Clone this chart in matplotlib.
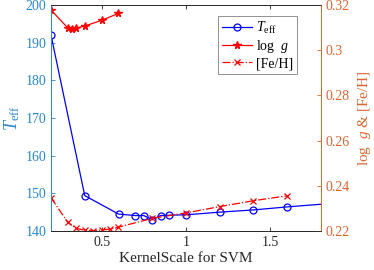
import matplotlib
matplotlib.use("Agg")
import matplotlib.pyplot as plt

plt.rcParams['font.family'] = ['Liberation Serif', 'DejaVu Serif']
plt.rcParams['mathtext.fontset'] = 'custom'
plt.rcParams['mathtext.rm'] = 'Liberation Serif'
plt.rcParams['mathtext.it'] = 'Liberation Serif:italic'

# Data
teff_x = [0.2, 0.4, 0.6, 0.7, 0.75, 0.8, 0.85, 0.9, 1.0, 1.2, 1.4, 1.6, 2.0]
teff_y = [192.0, 149.4, 144.5, 144.1, 144.1, 143.0, 144.1, 144.2, 144.3, 145.0, 145.6, 146.4, 147.8]

logg_x = [0.2, 0.3, 0.325, 0.35, 0.4, 0.5, 0.6]
logg_y = [0.3178, 0.3098, 0.3094, 0.3098, 0.3107, 0.3132, 0.3163]

feh_x = [0.2, 0.3, 0.35, 0.4, 0.45, 0.5, 0.55, 0.6, 0.8, 1.0, 1.2, 1.4, 1.6]
feh_y = [0.2347, 0.2238, 0.2212, 0.2203, 0.2202, 0.2204, 0.2209, 0.2217, 0.2256, 0.2280, 0.2308, 0.2334, 0.2356]

xticks = [0.5, 1, 1.5]
left_ticks = [140, 150, 160, 170, 180, 190, 200]
right_ticks = [0.22, 0.24, 0.26, 0.28, 0.3, 0.32]

LC = '#2a86cc'
RC = '#dd6430'
GRAY = '#262626'

fig = plt.figure(figsize=(3.74, 2.70), dpi=100)
ax = fig.add_axes([51/374, 39/270, 270/374, 226/270])
ax2 = ax.twinx()

l1, = ax.plot(teff_x, teff_y, '-o', color='b', lw=0.9, ms=5, mfc='none', mew=0.9)
l2, = ax2.plot(logg_x, logg_y, '-*', color='r', lw=0.9, ms=5.5)
l3, = ax2.plot(feh_x, feh_y, '-.x', color='r', lw=0.9, ms=4, mew=0.9)

ax.set_xlim(0.2, 1.8)
ax.set_ylim(140, 200)
ax2.set_ylim(0.22, 0.32)
ax.set_xticks(xticks)
ax.set_xticklabels(['0.5', '1', '1.5'])
ax.set_yticks(left_ticks)
ax2.set_yticks(right_ticks)
ax2.set_yticklabels(['0.22', '0.24', '0.26', '0.28', '0.3', '0.32'])

fs = 10
ax.tick_params(axis='x', direction='in', length=3, color=GRAY, labelsize=fs, labelcolor=GRAY, top=True, width=0.6)
ax.tick_params(axis='y', direction='in', length=3, color=LC, labelsize=fs, labelcolor=LC, width=0.6)
ax2.tick_params(axis='y', direction='in', length=3, color=RC, labelsize=fs, labelcolor=RC, width=0.6)

for a in (ax, ax2):
    a.spines['top'].set_color(GRAY)
    a.spines['bottom'].set_color(GRAY)
    a.spines['left'].set_color(LC)
    a.spines['right'].set_color(RC)
    for s in a.spines.values():
        s.set_linewidth(0.6)

ax.set_xlabel('KernelScale for SVM', fontsize=11, color=GRAY, labelpad=2)
ax.set_ylabel(r'$T_{\rm eff}$', fontsize=13, color=LC, labelpad=2)
ax2.set_ylabel(r'log  $g$ & [Fe/H]', fontsize=11, color=RC, labelpad=4)

leg = ax2.legend([l1, l2, l3], [r'$T_{\rm eff}$', r'log  $g$', '[Fe/H]'],
                 loc='upper right', bbox_to_anchor=((297 - 51) / 270, (231 - 15.7) / 226),
                 borderaxespad=0, fontsize=10,
                 fancybox=False, edgecolor='#808080', framealpha=1,
                 handlelength=2.1, handletextpad=0.3, borderpad=0.3, labelspacing=0.15)
leg.get_frame().set_linewidth(0.6)

fig.savefig('out.png', dpi=100)
